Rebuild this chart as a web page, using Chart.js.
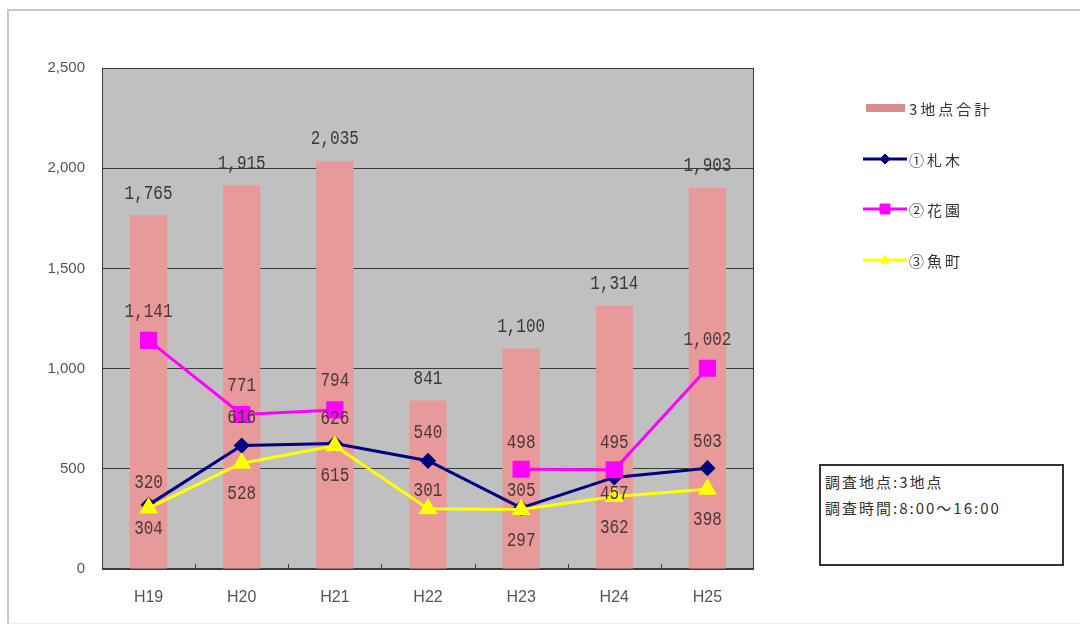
<!DOCTYPE html>
<html>
<head>
<meta charset="utf-8">
<script src="https://cdn.jsdelivr.net/npm/chart.js@4.4.0/dist/chart.umd.min.js"></script>
<style>
    html, body { margin: 0; padding: 0; background: #fff; }
    #wrap { position: relative; width: 1080px; height: 631px; overflow: hidden; }
    #frame {
        position: absolute; left: 7px; top: 9px; width: 1090px; height: 612px;
        border-left: 2px solid #c8c8c8; border-top: 2px solid #c8c8c8; border-bottom: 1px solid #ececec;
    }
    #note {
        position: absolute; left: 819px; top: 464px; width: 237px; height: 95px;
        border: 2px solid #333; background: #fff;
        font: 15px "Noto Sans CJK JP", sans-serif; color: #333;
        letter-spacing: 2px; line-height: 26px; padding: 3px 0 0 4px; box-sizing: content-box;
    }
    canvas { position: absolute; left: 0; top: 0; }
</style>
</head>
<body>
<div id="wrap">
    <div id="frame"></div>
    <canvas id="chart" width="1080" height="631"></canvas>
    <div id="note">調査地点:3地点<br>調査時間:8:00〜16:00</div>
</div>
<script>
    const categories = ['H19', 'H20', 'H21', 'H22', 'H23', 'H24', 'H25'];
    const totals = [1765, 1915, 2035, 841, 1100, 1314, 1903];
    const fudaki = [320, 616, 626, 540, 305, 457, 503];
    const hanazono = [1141, 771, 794, null, 498, 495, 1002];
    const uomachi = [304, 528, 615, 301, 297, 362, 398];
    const yTicks = [0, 500, 1000, 1500, 2000, 2500];

    // label offsets (px) from each point, as placed on the sheet
    const fudakiLabelDy = [-22, -28, -25, -28, -17, 16, -26];
    const hanazonoLabelDy = [-29, -29, -29, 0, -26, -27, -28];
    const uomachiLabelDy = [21, 31, 30, -18, 31, 31, 30];

    function drawValue(ctx, text, x, y) {
        ctx.save();
        ctx.translate(x, y);
        ctx.scale(1, 1.25);
        ctx.font = '16px "Liberation Mono", monospace';
        ctx.textAlign = 'center';
        ctx.textBaseline = 'middle';
        ctx.fillText(text, 0, 0);
        ctx.restore();
    }

    const plotArea = {
        id: 'plotArea',
        beforeDraw(chart) {
            const { ctx, chartArea: a } = chart;
            ctx.save();
            ctx.fillStyle = '#c0c0c0';
            ctx.fillRect(a.left, a.top, a.right - a.left, a.bottom - a.top);
            ctx.restore();
        },
        beforeDatasetsDraw(chart) {
            // frame + small inward ticks between categories
            const { ctx, chartArea: a, scales } = chart;
            ctx.save();
            ctx.strokeStyle = '#3c3c3c';
            ctx.lineWidth = 1;
            ctx.strokeRect(a.left + 0.5, a.top + 0.5, a.right - a.left - 1, a.bottom - a.top - 1);
            ctx.beginPath();
            for (let i = 1; i < categories.length; i++) {
                const x = Math.round((scales.x.getPixelForValue(i - 1) + scales.x.getPixelForValue(i)) / 2) + 0.5;
                ctx.moveTo(x, a.bottom);
                ctx.lineTo(x, a.bottom - 5);
            }
            ctx.stroke();
            ctx.restore();
        }
    };

    const valueLabels = {
        id: 'valueLabels',
        afterDatasetsDraw(chart) {
            const { ctx } = chart;
            const offsets = [null, fudakiLabelDy, hanazonoLabelDy, uomachiLabelDy];
            chart.data.datasets.forEach((ds, i) => {
                const meta = chart.getDatasetMeta(i);
                ctx.fillStyle = i === 0 ? '#383838' : '#4a3a3a';
                meta.data.forEach((el, j) => {
                    const v = ds.data[j];
                    if (v == null) return;
                    const dy = i === 0 ? -22 : offsets[i][j];
                    drawValue(ctx, v.toLocaleString('en-US'), el.x, el.y + dy);
                });
            });
        }
    };

    const sideLegend = {
        id: 'sideLegend',
        afterDraw(chart) {
            const { ctx } = chart;
            const top = 108, gap = 50.5;
            chart.data.datasets.forEach((ds, i) => {
                const y = Math.round(top + gap * i);
                ctx.save();
                if (ds.type === 'bar') {
                    ctx.fillStyle = '#d98b8d';
                    ctx.fillRect(866, y - 4, 39, 8);
                } else {
                    ctx.strokeStyle = ds.borderColor;
                    ctx.lineWidth = 3;
                    ctx.beginPath();
                    ctx.moveTo(863, y);
                    ctx.lineTo(907, y);
                    ctx.stroke();
                    ctx.fillStyle = ds.backgroundColor;
                    ctx.strokeStyle = ds.borderColor;
                    ctx.lineWidth = 1;
                    Chart.helpers.drawPoint(ctx, { pointStyle: ds.pointStyle, radius: ds.legendRadius, rotation: 0, borderWidth: 1 }, 885, y);
                }
                ctx.fillStyle = '#333';
                ctx.font = '15px "Noto Sans CJK JP", sans-serif';
                ctx.letterSpacing = '3px';
                ctx.textBaseline = 'middle';
                ctx.fillText(ds.label, 909, y + 1);
                ctx.restore();
            });
        }
    };

    new Chart(document.getElementById('chart'), {
        data: {
            labels: categories,
            datasets: [
                {
                    type: 'bar',
                    label: '3地点合計',
                    data: totals,
                    backgroundColor: '#e8999a',
                    categoryPercentage: 1,
                    barPercentage: 0.4,
                    order: 10,
                },
                {
                    type: 'line',
                    label: '①札木',
                    data: fudaki,
                    borderColor: '#000080',
                    backgroundColor: '#000080',
                    borderWidth: 3,
                    pointStyle: 'rectRot',
                    pointRadius: 6,
                    legendRadius: 5,
                    order: 3,
                },
                {
                    type: 'line',
                    label: '②花園',
                    data: hanazono,
                    borderColor: '#ff00ff',
                    backgroundColor: '#ff00ff',
                    borderWidth: 3,
                    pointStyle: 'rect',
                    pointRadius: 10,
                    legendRadius: 7,
                    spanGaps: false,
                    order: 2,
                },
                {
                    type: 'line',
                    label: '③魚町',
                    data: uomachi,
                    borderColor: '#ffff00',
                    backgroundColor: '#ffff00',
                    borderWidth: 3,
                    pointStyle: 'triangle',
                    pointRadius: 8,
                    legendRadius: 5,
                    order: 1,
                },
            ]
        },
        options: {
            responsive: false,
            animation: false,
            layout: { padding: { left: 0, top: 68, right: 326, bottom: 0 } },
            plugins: {
                legend: { display: false },
                tooltip: { enabled: false },
            },
            scales: {
                x: {
                    offset: true,
                    grid: { display: false, drawTicks: false },
                    border: { display: false },
                    ticks: { color: '#555', padding: 19, font: { family: '"Liberation Sans", Arial', size: 16 } },
                    afterFit: (s) => { s.height = 62; },
                },
                y: {
                    min: 0,
                    max: 2500,
                    afterBuildTicks: (s) => { s.ticks = yTicks.map(v => ({ value: v })); },
                    grid: { color: '#3c3c3c', lineWidth: 1, drawTicks: false },
                    border: { display: false },
                    ticks: {
                        color: '#555',
                        padding: 17,
                        font: { family: '"Liberation Sans", Arial', size: 15 },
                        callback: (v) => v.toLocaleString('en-US'),
                    },
                    afterFit: (s) => { s.width = 102; },
                }
            }
        },
        plugins: [plotArea, valueLabels, sideLegend]
    });
</script>
</body>
</html>
